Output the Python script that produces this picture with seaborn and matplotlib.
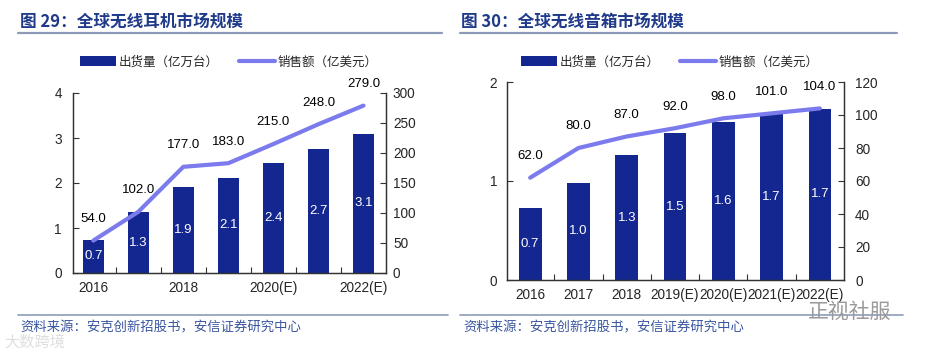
import numpy as np
import seaborn as sns
import matplotlib.pyplot as plt
from matplotlib.patches import Patch
from matplotlib.lines import Line2D

# data
years = ['2016', '2017', '2018', '2019(E)', '2020(E)', '2021(E)', '2022(E)']

# 图29 全球无线耳机
earbud_units = [0.74, 1.35, 1.92, 2.12, 2.44, 2.76, 3.09]
earbud_unit_labels = ['0.7', '1.3', '1.9', '2.1', '2.4', '2.7', '3.1']
earbud_sales = [54.0, 102.0, 177.0, 183.0, 215.0, 248.0, 279.0]
earbud_ticklabels = ['2016', '', '2018', '', '2020(E)', '', '2022(E)']

# 图30 全球无线音箱
speaker_units = [0.73, 0.98, 1.26, 1.48, 1.60, 1.68, 1.73]
speaker_unit_labels = ['0.7', '1.0', '1.3', '1.5', '1.6', '1.7', '1.7']
speaker_sales = [62.0, 80.0, 87.0, 92.0, 98.0, 101.0, 104.0]
speaker_ticklabels = years

legend_labels = ['出货量（亿万台）', '销售额（亿美元）']
source_text = '资料来源：安克创新招股书，安信证券研究中心'

BAR = '#14268f'
LINE = '#7b7bee'
TITLE = '#1f3a8a'
RULE = '#8d9bb9'

sns.set_style('white')
plt.rcParams['font.family'] = ['Liberation Sans', 'Noto Sans CJK SC', 'DejaVu Sans']
cjk = ['Noto Sans CJK SC', 'DejaVu Sans']

W, H = 927, 351
fig = plt.figure(figsize=(W / 100, H / 100), dpi=100)


def px(x0, y0, x1, y1):
    # pixel box -> figure fraction rect
    return [x0 / W, 1 - y1 / H, (x1 - x0) / W, (y1 - y0) / H]


def draw(rect, units, unit_labels, sales, ticklabels, ymax_l, ystep_l, ymax_r, ystep_r,
         xlim, lpad, rpad):
    ax = fig.add_axes(rect)
    sns.barplot(x=years, y=units, color=BAR, saturation=1, width=0.47, linewidth=0, ax=ax)
    ax2 = ax.twinx()
    sns.lineplot(x=years, y=sales, sort=False, color=LINE, linewidth=3, ax=ax2)

    for i, (h, t) in enumerate(zip(units, unit_labels)):
        ax.text(i, h / 2, t, ha='center', va='center', color='white', fontsize=9.5)
    for i, v in enumerate(sales):
        ax2.annotate(f'{v:.1f}', (i, v), xytext=(0, 15.5), textcoords='offset points',
                     ha='center', va='center', fontsize=9.5, color='black',
                     annotation_clip=False)

    ax.set_xlim(*xlim)
    ax.set_ylim(0, ymax_l)
    ax.set_yticks(np.arange(0, ymax_l + 0.001, ystep_l))
    ax2.set_ylim(0, ymax_r)
    ax2.set_yticks(np.arange(0, ymax_r + 0.001, ystep_r))
    ax.set_xticks(range(len(years)))
    ax.set_xticklabels(ticklabels)
    ax.set_xticks(np.arange(0.5, len(years) - 1), minor=True)
    ax.tick_params(axis='x', which='major', length=0, pad=6, labelsize=9.8)
    ax.tick_params(axis='x', which='minor', direction='in', length=4, width=0.8,
                   color='#333333', bottom=True)
    ax.tick_params(axis='y', direction='in', length=4, width=0.8, color='#333333',
                   pad=lpad, labelsize=9.8, left=True)
    ax2.tick_params(axis='y', direction='in', length=4, width=0.8, color='#333333',
                    pad=rpad, labelsize=9.8, right=True)
    ax.set_xlabel('')
    ax.set_ylabel('')
    ax2.set_ylabel('')
    for a in (ax, ax2):
        a.spines['top'].set_visible(False)
        a.grid(False)
        for s in a.spines.values():
            s.set_color('#333333')
            s.set_linewidth(0.9)
    ax.patch.set_alpha(0)
    return ax, ax2


# figure furniture: titles, rules, legends, sources
fig.text(20 / W, 1 - 22 / H, '图 29：全球无线耳机市场规模', family=cjk, fontsize=12,
         fontweight='bold', color=TITLE, va='center')
fig.text(461 / W, 1 - 22 / H, '图 30：全球无线音箱市场规模', family=cjk, fontsize=12,
         fontweight='bold', color=TITLE, va='center')
for x0, x1 in [(18, 442), (460, 897)]:
    fig.add_artist(Line2D([x0 / W, x1 / W], [1 - 33 / H] * 2, color=RULE, lw=1.6))
    fig.add_artist(Line2D([x0 / W, x1 / W + 6 / W], [1 - 315 / H] * 2, color=RULE, lw=1.2))

draw(px(73, 93, 386, 273), earbud_units, earbud_unit_labels, earbud_sales, earbud_ticklabels,
     4, 1, 300, 50, (-0.45, 6.5), 8, 5)
draw(px(507, 82, 844, 280), speaker_units, speaker_unit_labels, speaker_sales, speaker_ticklabels,
     2, 1, 120, 20, (-0.48, 6.5), 7, 8)

handles = [Patch(facecolor=BAR, edgecolor='none'), Line2D([], [], color=LINE, lw=3)]
for x in (80, 521):
    fig.legend(handles, legend_labels, loc='center left', bbox_to_anchor=(x / W, 1 - 62 / H),
               ncol=2, frameon=False, borderpad=0, borderaxespad=0, handlelength=2.9,
               handleheight=0.85, handletextpad=0.2, columnspacing=1.6,
               prop={'family': cjk, 'size': 9})

for x in (20, 463):
    fig.text(x / W, 1 - 327 / H, source_text, family=cjk, fontsize=9.6, color='#3a56a0',
             va='center', style='italic')

# watermarks
fig.text(4 / W, 1 - 342 / H, '大数跨境', family=cjk, fontsize=11, color='#dedede', va='center')
fig.text(808 / W, 1 - 312 / H, '正视社服', family=cjk, fontsize=15, color='#9a9a9a', va='center')

fig.savefig('out.png', dpi=100)
